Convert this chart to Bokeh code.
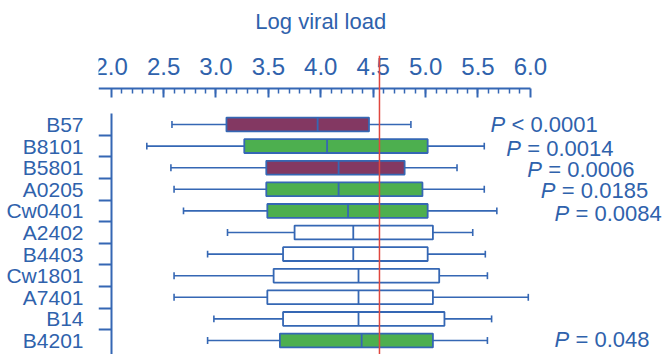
from bokeh.plotting import figure
from bokeh.models import (Range1d, LinearAxis, FixedTicker, Span,
                          ColumnDataSource, PrintfTickFormatter)
from bokeh.core.properties import value
from bokeh.embed import file_html
from bokeh.resources import INLINE

# ---- data ----
alleles = ["B57", "B8101", "B5801", "A0205", "Cw0401", "A2402",
           "B4403", "Cw1801", "A7401", "B14", "B4201"]
whisker_lo = [2.58, 2.34, 2.57, 2.60, 2.69, 3.11, 2.92, 2.60, 2.60, 2.98, 2.92]
q1 = [3.10, 3.27, 3.48, 3.48, 3.49, 3.75, 3.64, 3.55, 3.49, 3.64, 3.61]
median = [3.97, 4.06, 4.17, 4.17, 4.26, 4.31, 4.31, 4.36, 4.36, 4.36, 4.39]
q3 = [4.46, 5.02, 4.80, 4.97, 5.02, 5.07, 5.02, 5.13, 5.07, 5.18, 5.07]
whisker_hi = [4.86, 5.56, 5.30, 5.56, 5.68, 5.45, 5.57, 5.59, 5.98, 5.63, 5.59]
group = ["low", "high", "low", "high", "high", "ns", "ns", "ns", "ns", "ns", "high"]
reference_line = 4.56
x_ticks = [2.0, 2.5, 3.0, 3.5, 4.0, 4.5, 5.0, 5.5, 6.0]
p_rows = ["B57", "B8101", "B5801", "A0205", "Cw0401", "B4201"]
p_texts = ["< 0.0001", "= 0.0014", "= 0.0006", "= 0.0185", "= 0.0084", "= 0.048"]
x_title = "Log viral load"

# ---- layout / style ----
title_center = 4.0
p_label_x = [5.62, 5.77, 5.97, 6.10, 6.23, 6.23]
p_label_dy = [0.0, 0.12, 0.07, 0.07, 0.1, -0.05]
colors = {"low": "#833862", "high": "#4DAF4F", "ns": "#FFFFFF"}
BLUE = "#3567B4"
TEXT = "#2F62AC"
RED = "#E0473E"
FONT = "Liberation Sans"

rows = list(range(len(alleles)))
box_h = 0.64
cap_h = 0.32

src = ColumnDataSource(dict(
    y=rows, lo=whisker_lo, q1=q1, med=median, q3=q3, hi=whisker_hi,
    color=[colors[g] for g in group],
    y0=[r - box_h / 2 for r in rows], y1=[r + box_h / 2 for r in rows],
    c0=[r - cap_h / 2 for r in rows], c1=[r + cap_h / 2 for r in rows],
))

p = figure(width=670, height=354, output_backend="svg", toolbar_location=None,
           x_range=Range1d(1.879, 7.337), y_range=Range1d(10.648, -3.194),
           x_axis_type=None, y_axis_type=None,
           min_border_left=98, min_border_right=0, min_border_top=55,
           min_border_bottom=0)
p.outline_line_color = None
p.background_fill_color = "white"

# x axis on top (placed at a fixed location inside the frame)
xa = LinearAxis(
    ticker=FixedTicker(ticks=x_ticks,
                       minor_ticks=[round(2.0 + 0.1 * i, 1) for i in range(1, 40)]),
    formatter=PrintfTickFormatter(format="%.1f"),
    bounds=(1.879, 6.0), fixed_location=-1.667)
xa.axis_line_color = BLUE
xa.axis_line_width = 2
xa.major_tick_line_color = BLUE
xa.major_tick_line_width = 2
xa.major_tick_in = 9
xa.major_tick_out = 0
xa.minor_tick_line_color = BLUE
xa.minor_tick_line_width = 1.5
xa.minor_tick_in = 5
xa.minor_tick_out = 0
xa.major_label_text_font = FONT
xa.major_label_text_font_size = "24px"
xa.major_label_text_color = TEXT
xa.major_label_standoff = 13
p.add_layout(xa, "above")

# x-axis title, centred over the 2.0 - 6.0 scale
xt = LinearAxis(ticker=FixedTicker(ticks=[title_center]),
                major_label_overrides={title_center: x_title})
xt.axis_line_color = None
xt.major_tick_line_color = None
xt.minor_tick_line_color = None
xt.major_tick_in = 0
xt.major_tick_out = 0
xt.major_label_standoff = 22
xt.major_label_text_font = FONT
xt.major_label_text_font_size = "22px"
xt.major_label_text_color = TEXT
p.add_layout(xt, "above")

# category labels (left)
ya = LinearAxis(ticker=FixedTicker(ticks=rows),
                major_label_overrides={i: a for i, a in enumerate(alleles)})
ya.axis_line_color = None
ya.major_tick_line_color = None
ya.minor_tick_line_color = None
ya.major_label_standoff = 9
ya.major_label_text_font = FONT
ya.major_label_text_font_size = "21px"
ya.major_label_text_color = TEXT
p.add_layout(ya, "left")

# y axis line with ticks between categories
yt = LinearAxis(ticker=FixedTicker(ticks=[r + 0.5 for r in rows[:-1]]),
                fixed_location=2.0, bounds=(-0.51, 10.648))
yt.axis_line_color = BLUE
yt.axis_line_width = 2
yt.major_tick_line_color = BLUE
yt.major_tick_line_width = 2
yt.major_tick_out = 13
yt.major_tick_in = 0
yt.minor_tick_line_color = None
yt.major_label_text_alpha = 0
yt.major_label_text_font_size = "1px"
p.add_layout(yt, "left")

# whiskers
p.segment(x0="lo", x1="q1", y0="y", y1="y", source=src, line_color=BLUE, line_width=1.6)
p.segment(x0="q3", x1="hi", y0="y", y1="y", source=src, line_color=BLUE, line_width=1.6)
p.segment(x0="lo", x1="lo", y0="c0", y1="c1", source=src, line_color=BLUE, line_width=1.6)
p.segment(x0="hi", x1="hi", y0="c0", y1="c1", source=src, line_color=BLUE, line_width=1.6)
# boxes
p.hbar(y="y", left="q1", right="q3", height=box_h, source=src,
       fill_color="color", line_color=BLUE, line_width=1.8)
# medians
p.segment(x0="med", x1="med", y0="y0", y1="y1", source=src, line_color=BLUE, line_width=1.8)

# P-value labels
py = [alleles.index(r) + d for r, d in zip(p_rows, p_label_dy)]
p.text(x=p_label_x, y=py, text=["P"] * len(p_rows), text_font=value(FONT),
       text_font_style="italic", text_font_size="22px", text_color=TEXT,
       text_baseline="middle", text_align="left")
p.text(x=p_label_x, y=py, text=p_texts, text_font=value(FONT),
       text_font_size="22px", text_color=TEXT, x_offset=21,
       text_baseline="middle", text_align="left")

# reference line
p.add_layout(Span(location=reference_line, dimension="height",
                  line_color=RED, line_width=1.5))

open("out.html", "w").write(file_html(p, INLINE))
